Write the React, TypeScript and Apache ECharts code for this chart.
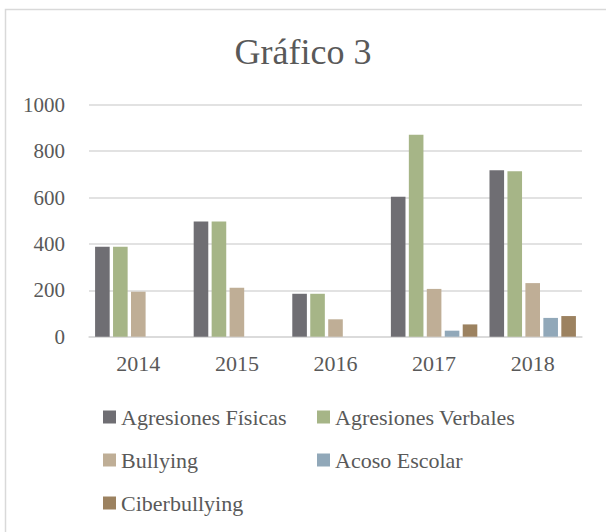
import React, { useEffect, useRef } from "react";
import * as echarts from "echarts";

const categories = ["2014", "2015", "2016", "2017", "2018"];
const seriesNames = ["Agresiones Físicas", "Agresiones Verbales", "Bullying", "Acoso Escolar", "Ciberbullying"];
const fisicas = [388, 497, 185, 603, 717];
const verbales = [388, 497, 185, 871, 713];
const bullying = [194, 211, 75, 206, 231];
const acoso = [0, 0, 0, 26, 81];
const ciber = [0, 0, 0, 53, 89];
const colors = ["#6f6e73", "#a6b587", "#bfae96", "#91a8b9", "#9c8260"];

const FONT = "'Liberation Serif', 'DejaVu Serif', serif";
const TEXT = "#595959";

export default function App() {
  const ref = useRef<HTMLDivElement>(null);
  useEffect(() => {
    if (!ref.current) return;
    const chart = echarts.init(ref.current, null, { renderer: "svg" });
    const values = [fisicas, verbales, bullying, acoso, ciber];
    const legendPos = [
      { left: 103, top: 406 },
      { left: 317, top: 406 },
      { left: 103, top: 449 },
      { left: 317, top: 449 },
      { left: 103, top: 492 },
    ];
    chart.setOption({
      animation: false,
      backgroundColor: "#ffffff",
      textStyle: { fontFamily: FONT },
      title: {
        text: "Gráfico 3",
        left: "center",
        top: 34,
        padding: [0, 0, 0, 22],
        textStyle: { fontFamily: FONT, fontSize: 36, fontWeight: "normal", color: TEXT },
      },
      graphic: [
        {
          type: "rect",
          shape: { x: 5.5, y: 9.5, width: 800, height: 800 },
          style: { fill: "none", stroke: "#d9d9d9", lineWidth: 1.5 },
          silent: true,
        },
      ],
      legend: seriesNames.map((n, i) => ({
        data: [n],
        left: legendPos[i].left,
        top: legendPos[i].top,
        padding: 0,
        icon: "rect",
        itemWidth: 13,
        itemHeight: 13,
        selectedMode: false,
        textStyle: { fontFamily: FONT, fontSize: 22, color: TEXT },
      })),
      grid: { left: 89, right: 24, top: 104.7, bottom: 195.3, containLabel: false },
      xAxis: {
        type: "category",
        data: categories,
        axisLine: { lineStyle: { color: "#d9d9d9", width: 1.5 } },
        axisTick: { show: false },
        axisLabel: { fontFamily: FONT, fontSize: 22, color: TEXT, margin: 16 },
      },
      yAxis: {
        type: "value",
        min: 0,
        max: 1000,
        interval: 200,
        axisLine: { show: false },
        axisTick: { show: false },
        splitLine: { lineStyle: { color: "#d9d9d9", width: 1.5 } },
        axisLabel: {
          fontFamily: FONT,
          fontSize: 21,
          color: TEXT,
          margin: 24,
          formatter: (v: number) => String(v),
        },
      },
      series: seriesNames.map((n, i) => ({
        name: n,
        type: "bar",
        data: values[i],
        barWidth: 14.6,
        barGap: "23%",
        itemStyle: { color: colors[i] },
      })),
    });
    return () => chart.dispose();
  }, []);
  return (
    <div
      ref={ref}
      style={{ position: "fixed", left: 0, top: 0, width: 606, height: 532 }}
    />
  );
}
